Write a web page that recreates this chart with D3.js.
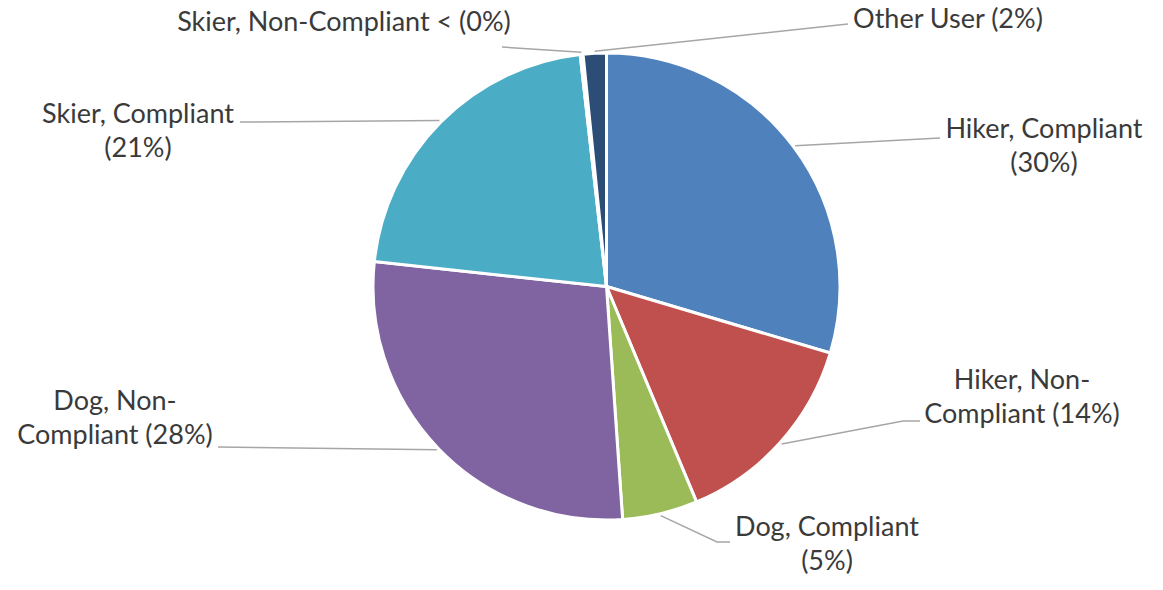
<!DOCTYPE html>
<html>
<head>
<meta charset="utf-8">
<script src="https://cdn.jsdelivr.net/npm/d3@7"></script>
<style>
  body { margin: 0; background: #fff; }
  text { font-family: Lato, "Open Sans", sans-serif; }
</style>
</head>
<body>
<script>
// slice data, clockwise from 12 o'clock
const categories = [
  "Hiker, Compliant",
  "Hiker, Non-Compliant",
  "Dog, Compliant",
  "Dog, Non-Compliant",
  "Skier, Compliant",
  "Skier, Non-Compliant",
  "Other User"
];
const values = [29.6, 14.1, 5.2, 27.8, 21.5, 0.2, 1.6];
const colors = ["#4f81bd", "#c0504d", "#9bbb59", "#8064a2", "#4bacc6", "#f79646", "#2c4d75"];
// label text as Excel wrapped it
const labelLines = [
  ["Hiker, Compliant", "(30%)"],
  ["Hiker, Non-", "Compliant (14%)"],
  ["Dog, Compliant", "(5%)"],
  ["Dog, Non-", "Compliant (28%)"],
  ["Skier, Compliant", "(21%)"],
  ["Skier, Non-Compliant < (0%)"],
  ["Other User (2%)"]
];

// layout: label centre x, first baseline, leader elbow and end
const labelLayout = [
  { cx: 1044, y: 138, elbow: null, end: [940, 138] },
  { cx: 1022, y: 389, elbow: [903, 421], end: [920, 421] },
  { cx: 827, y: 536, elbow: [717, 542], end: [730, 542] },
  { cx: 115, y: 410, elbow: null, end: [218, 447] },
  { cx: 138, y: 123, elbow: null, end: [240, 122] },
  { cx: 344, y: 31, elbow: null, end: [502, 47] },
  { cx: 948, y: 28, elbow: null, end: [848, 24] }
];

const W = 1163, H = 590;
const cx = 606.5, cy = 286.5, R = 233.5;
const lineGap = 34;

const svg = d3.select("body").append("svg")
  .attr("width", W)
  .attr("height", H);

const data = categories.map((c, i) => ({ name: c, value: values[i], i: i }));

const pie = d3.pie().sort(null).value(d => d.value);
const arcs = pie(data);
const arc = d3.arc().innerRadius(0).outerRadius(R);

const g = svg.append("g").attr("transform", `translate(${cx},${cy})`);

g.selectAll("path.slice")
  .data(arcs)
  .enter()
  .append("path")
  .attr("class", "slice")
  .attr("d", arc)
  .attr("fill", d => colors[d.data.i])
  .attr("stroke", "#fff")
  .attr("stroke-width", 3)
  .attr("stroke-linejoin", "round");

// leader lines from slice edge to label
svg.selectAll("polyline.leader")
  .data(arcs)
  .enter()
  .append("polyline")
  .attr("class", "leader")
  .attr("points", d => {
    const a = (d.startAngle + d.endAngle) / 2;
    const r = R + 2;
    const p0 = [cx + Math.sin(a) * r, cy - Math.cos(a) * r];
    const L = labelLayout[d.data.i];
    const pts = [p0];
    if (L.elbow) pts.push(L.elbow);
    pts.push(L.end);
    return pts.map(p => p.join(",")).join(" ");
  })
  .attr("fill", "none")
  .attr("stroke", "#a6a6a6")
  .attr("stroke-width", 1.5);

// labels
const labels = svg.selectAll("text.lbl")
  .data(arcs)
  .enter()
  .append("text")
  .attr("class", "lbl")
  .attr("text-anchor", "middle")
  .attr("font-size", "27px")
  .attr("fill", "#3a3a3a");

labels.each(function (d) {
  const L = labelLayout[d.data.i];
  d3.select(this).selectAll("tspan")
    .data(labelLines[d.data.i])
    .enter()
    .append("tspan")
    .attr("x", L.cx)
    .attr("y", (t, k) => L.y + k * lineGap)
    .text(t => t);
});
</script>
</body>
</html>
